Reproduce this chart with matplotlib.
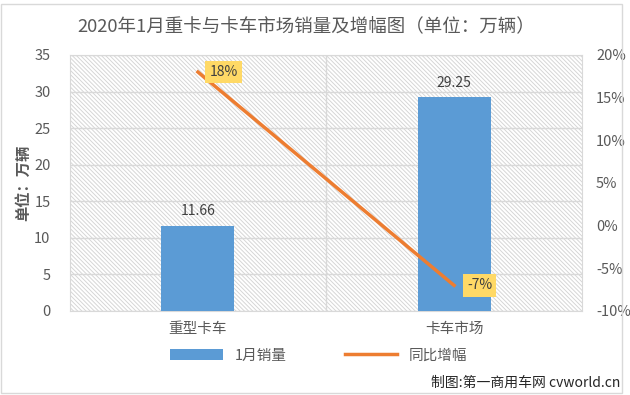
import matplotlib
matplotlib.use('Agg')
import matplotlib.pyplot as plt
from matplotlib.patches import Rectangle
from matplotlib.lines import Line2D
from matplotlib.patches import Patch

plt.rcParams['font.family'] = ['Noto Sans CJK SC', 'DejaVu Sans']
plt.rcParams['hatch.linewidth'] = 0.7

# data
categories = ['重型卡车', '卡车市场']
sales = [11.66, 29.25]          # 万辆
growth = [18, -7]               # %
sales_labels = ['11.66', '29.25']
growth_labels = ['18%', '-7%']

txt = '#595959'
grid = '#d9d9d9'
bar_color = '#5B9BD5'
line_color = '#ED7D31'

fig = plt.figure(figsize=(6.3, 3.95), dpi=100)
fig.patch.set_facecolor('white')
fig.patches.append(Rectangle((0.002, 0.006), 0.986, 0.985, transform=fig.transFigure,
                             fill=False, edgecolor=grid, lw=1))

ax = fig.add_axes([0.111, 0.2127, 0.813, 0.6481])
x = range(len(categories))

# hatched plot area
ax.add_patch(Rectangle((0, 0), 1, 1, transform=ax.transAxes, fill=False,
                       hatch='\\' * 8, edgecolor='#d6d6d6', lw=0, zorder=0))

ax.bar(x, sales, width=0.285, color=bar_color, zorder=3)
for xi, v, s in zip(x, sales, sales_labels):
    ax.text(xi, v + 1.0, s, ha='center', va='bottom', fontsize=10, color='#404040', zorder=5)

ax.set_xlim(-0.5, 1.5)
ax.set_ylim(0, 35)
ax.set_yticks(range(0, 36, 5))
ax.set_xticks(list(x))
ax.set_xticklabels(categories, fontsize=10.5, color=txt)
ax.tick_params(axis='both', length=0, colors=txt, labelsize=10.5)
ax.tick_params(axis='x', pad=8)
ax.tick_params(axis='y', pad=14)
ax.grid(axis='y', color=grid, lw=1, zorder=1)
ax.axvline(0.5, color=grid, lw=1, zorder=1)
for sp in ax.spines.values():
    sp.set_color(grid)
ax.set_ylabel('单位：万辆', fontsize=11, color=txt, fontweight='bold', labelpad=2)

ax2 = ax.twinx()
ax2.plot(x, growth, color=line_color, lw=2.5, zorder=4)
ax2.set_ylim(-10, 20)
ax2.set_yticks(range(-10, 21, 5))
ax2.set_yticklabels([f'{t}%' for t in range(-10, 21, 5)])
ax2.tick_params(axis='y', length=0, colors=txt, labelsize=10.5, pad=10)
for sp in ax2.spines.values():
    sp.set_visible(False)
for xi, g, s in zip(x, growth, growth_labels):
    ax2.text(xi + 0.1, g, s, ha='center', va='center', fontsize=10, color='#404040', zorder=6,
             bbox=dict(boxstyle='square,pad=0.3', facecolor='#FFD966', edgecolor='none'))

fig.text(0.486, 0.93, '2020年1月重卡与卡车市场销量及增幅图（单位：万辆）',
         ha='center', va='center', fontsize=13.3, color=txt)

handles = [Patch(facecolor=bar_color, edgecolor='none'),
           Line2D([0], [0], color=line_color, lw=2.5)]
fig.legend(handles, ['1月销量', '同比增幅'], loc='center', bbox_to_anchor=(0.506, 0.1),
           ncol=2, frameon=False, fontsize=10.5, labelcolor=txt, columnspacing=4.0,
           handlelength=3.6, handleheight=0.7, handletextpad=0.8)

fig.text(0.985, 0.03, '制图:第一商用车网 cvworld.cn', ha='right', va='center',
         fontsize=10, color='#262626')

fig.savefig('out.png', dpi=100)
